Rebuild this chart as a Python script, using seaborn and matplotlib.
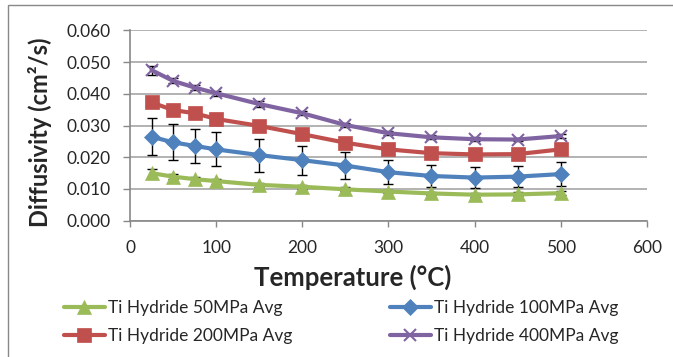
import matplotlib
matplotlib.use("Agg")
import matplotlib.pyplot as plt
import seaborn as sns
import pandas as pd
from matplotlib.patches import Rectangle

temps = [25, 50, 75, 100, 150, 200, 250, 300, 350, 400, 450, 500]
d50 = [0.0150, 0.0139, 0.0131, 0.0125, 0.0113, 0.0107, 0.0099, 0.0092, 0.0086, 0.0082, 0.0083, 0.0087]
d100 = [0.0265, 0.0247, 0.0236, 0.0225, 0.0207, 0.0191, 0.0174, 0.0153, 0.0141, 0.0136, 0.0139, 0.0147]
d200 = [0.0373, 0.0349, 0.0339, 0.0321, 0.0299, 0.0273, 0.0246, 0.0225, 0.0213, 0.0209, 0.0210, 0.0225]
d400 = [0.0475, 0.0441, 0.0420, 0.0402, 0.0368, 0.0339, 0.0302, 0.0276, 0.0263, 0.0257, 0.0256, 0.0267]
err50 = [0.0012, 0.0008, 0.0008, 0.0008, 0.0007, 0.0006, 0.0006, 0.0006, 0.0006, 0.0006, 0.0006, 0.0006]
err100 = [0.0059, 0.0057, 0.0054, 0.0054, 0.0052, 0.0046, 0.0042, 0.0037, 0.0034, 0.0033, 0.0034, 0.0037]
err200 = [0.0010, 0.0008, 0.0008, 0.0008, 0.0008, 0.0007, 0.0007, 0.0007, 0.0006, 0.0006, 0.0006, 0.0006]
err400 = [0.0014, 0.0008, 0.0008, 0.0008, 0.0008, 0.0007, 0.0007, 0.0007, 0.0006, 0.0006, 0.0006, 0.0006]
labels = ["Ti Hydride 50MPa Avg", "Ti Hydride 100MPa Avg", "Ti Hydride 200MPa Avg", "Ti Hydride 400MPa Avg"]
colors = ["#9BBB59", "#4F81BD", "#C0504D", "#8064A2"]
markers = ["^", "D", "s", "x"]
msizes = [10, 8, 10, 9]
xticks = [0, 100, 200, 300, 400, 500, 600]
yticks = [0.000, 0.010, 0.020, 0.030, 0.040, 0.050, 0.060]

sns.set_style("white")
plt.rcParams['font.family'] = ['Lato', 'DejaVu Sans']

fig = plt.figure(figsize=(6.73, 3.57), dpi=100)
ax = fig.add_axes([0.1932, 0.3818, 0.961 - 0.1932, 0.9146 - 0.3818])

series = [d50, d100, d200, d400]
errs = [err50, err100, err200, err400]
for vals, er, lab, col, mk, ms in zip(series, errs, labels, colors, markers, msizes):
    df = pd.DataFrame({"T": temps, "D": vals})
    ax.errorbar(temps, vals, yerr=er, fmt="none", ecolor="black", elinewidth=1.0,
                capsize=3.5, capthick=1.0, zorder=2)
    sns.lineplot(data=df, x="T", y="D", ax=ax, color=col, linewidth=3, marker=mk,
                 markersize=ms, markeredgecolor=col, markeredgewidth=1.5 if mk == "x" else 0.5,
                 label=lab, zorder=3)

ax.set_xlim(0, 600)
ax.set_ylim(0, 0.06)
ax.set_xticks(xticks)
ax.set_yticks(yticks)
ax.set_xticklabels([str(t) for t in xticks], fontsize=12.5)
ax.set_yticklabels([f"{v:.3f}" for v in yticks], fontsize=12.5)
ax.yaxis.grid(True, color="#A6A6A6", linewidth=1.2)
ax.xaxis.grid(False)
for s in ["top", "right"]:
    ax.spines[s].set_visible(False)
for s in ["left", "bottom"]:
    ax.spines[s].set_color("#888888")
    ax.spines[s].set_linewidth(1.2)
ax.tick_params(axis="y", direction="out", length=5, color="#888888", width=1.0,
               left=True, pad=9)
ax.tick_params(axis="x", direction="out", length=4, color="#888888", width=1.0,
               bottom=True, pad=10)
ax.set_xlabel("Temperature (°C)", fontsize=18.5, fontweight="bold")
ax.set_ylabel("Diffusivity (cm²/s)", fontsize=17, fontweight="bold")
ax.xaxis.set_label_coords((353 - 130) / (647 - 130), (220.7 - 277) / 190.2)
ax.xaxis.label.set_va("center")
ax.yaxis.set_label_coords((40 - 130) / (647 - 130), (220.7 - 132) / 190.2)
ax.yaxis.label.set_va("center")

h, l = ax.get_legend_handles_labels()
order = [0, 2, 1, 3]
leg = ax.legend([h[i] for i in order], [l[i] for i in order], ncol=2, loc="upper left",
                bbox_to_anchor=(64 / 673, 1 - 300 / 357), bbox_transform=fig.transFigure,
                frameon=False, fontsize=12.5, handlelength=2.35, handletextpad=0.2,
                columnspacing=5.6, labelspacing=0.68, borderaxespad=0, borderpad=0)

fig.patches.append(Rectangle((0.012, -0.02), 1.05, 1.005, transform=fig.transFigure,
                             fill=False, edgecolor="#888888", linewidth=1.0))

fig.savefig("out.png", dpi=100)
